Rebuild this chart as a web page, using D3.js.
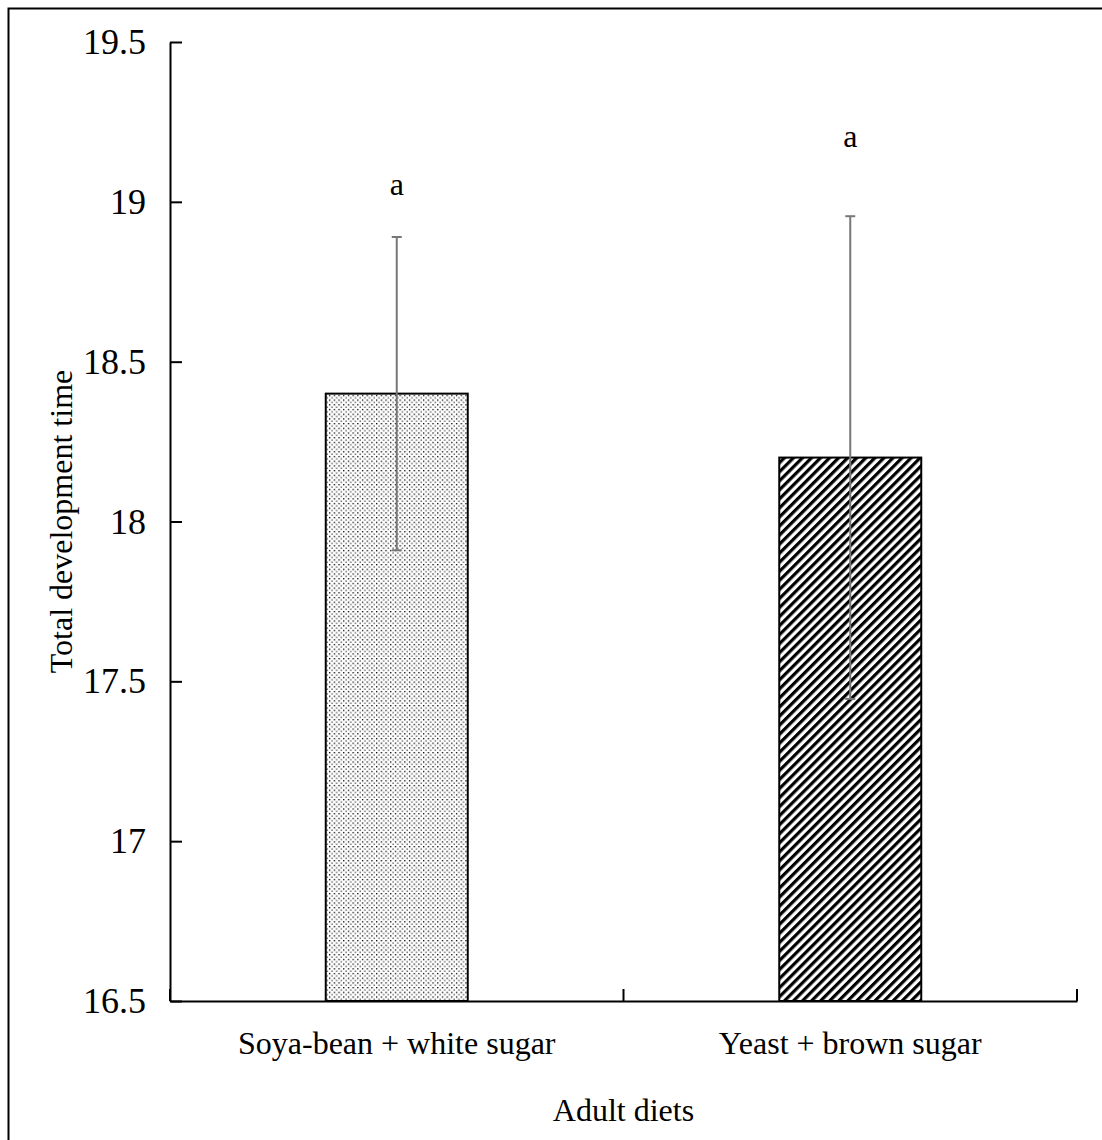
<!DOCTYPE html>
<html>
<head>
<meta charset="utf-8">
<script src="https://cdn.jsdelivr.net/npm/d3@7"></script>
<style>
  html, body { margin: 0; padding: 0; background: #fff; }
  svg text { font-family: "Liberation Serif", "Times New Roman", serif; fill: #000; }
</style>
</head>
<body>
<script>
((() => {

// Data
let diets = ['Soya-bean + white sugar', 'Yeast + brown sugar'];
let meanTime = [18.4, 18.2];
let errorTime = [0.49, 0.755];
let letters = ['a', 'a'];
let letterPos = [19.02, 19.17]; // where the letters sit, in axis units
let yTicks = [16.5, 17, 17.5, 18, 18.5, 19, 19.5];

let width = 1102,
    height = 1140;

let margin = { top: 42, bottom: 139, left: 170, right: 25 };

let svg = d3.select('body')
  .append('svg')
    .attr('width', width)
    .attr('height', height);

// outer frame (runs off the right and bottom edge)
svg.append('rect')
  .attr('x', 8.5).attr('y', 8.5)
  .attr('width', width + 20).attr('height', height + 20)
  .attr('fill', 'none')
  .attr('stroke', '#000')
  .attr('stroke-width', 2);

// fill patterns
let defs = svg.append('defs');

let dots = defs.append('pattern')
  .attr('id', 'dots')
  .attr('patternUnits', 'userSpaceOnUse')
  .attr('width', 4.7).attr('height', 4.7);
dots.append('rect').attr('width', 4.7).attr('height', 4.7).attr('fill', '#fff');
dots.append('rect').attr('x', 0).attr('y', 0).attr('width', 1.3).attr('height', 1.3).attr('fill', '#000');
dots.append('rect').attr('x', 2.35).attr('y', 2.35).attr('width', 1.3).attr('height', 1.3).attr('fill', '#444');

let hatch = defs.append('pattern')
  .attr('id', 'hatch')
  .attr('patternUnits', 'userSpaceOnUse')
  .attr('width', 6.4).attr('height', 10)
  .attr('patternTransform', 'rotate(45)');
hatch.append('rect').attr('width', 6.4).attr('height', 10).attr('fill', '#fff');
hatch.append('rect').attr('x', 0).attr('y', 0).attr('width', 3.2).attr('height', 10).attr('fill', '#000');

let fills = ['url(#dots)', 'url(#hatch)'];

// scales
let yScale = d3.scaleLinear()
  .domain([16.5, 19.5])
  .range([height - margin.bottom, margin.top]);

let xScale = d3.scaleBand()
  .domain(diets)
  .range([margin.left, width - margin.right])
  .paddingInner(0)
  .paddingOuter(0);

let barWidth = 142;

// bars
svg.selectAll('rect.bar')
  .data(diets)
  .enter()
  .append('rect')
    .attr('class', 'bar')
    .attr('x', (d) => xScale(d) + xScale.bandwidth() / 2 - barWidth / 2)
    .attr('y', (d, i) => yScale(meanTime[i]))
    .attr('width', barWidth)
    .attr('height', (d, i) => yScale(16.5) - yScale(meanTime[i]))
    .attr('fill', (d, i) => fills[i])
    .attr('stroke', '#000')
    .attr('stroke-width', 2);

// error bars
let err = svg.selectAll('g.err')
  .data(diets)
  .enter()
  .append('g')
    .attr('class', 'err')
    .attr('transform', (d) => `translate(${xScale(d) + xScale.bandwidth() / 2},0)`);

err.append('line')
  .attr('y1', (d, i) => yScale(meanTime[i] + errorTime[i]))
  .attr('y2', (d, i) => yScale(meanTime[i] - errorTime[i]))
  .attr('stroke', '#777').attr('stroke-width', 2);

[1, -1].forEach((s) => {
  err.append('line')
    .attr('x1', -5).attr('x2', 5)
    .attr('y1', (d, i) => yScale(meanTime[i] + s * errorTime[i]))
    .attr('y2', (d, i) => yScale(meanTime[i] + s * errorTime[i]))
    .attr('stroke', '#777').attr('stroke-width', 2);
});

// significance letters
svg.selectAll('text.letter')
  .data(diets)
  .enter()
  .append('text')
    .attr('class', 'letter')
    .attr('x', (d) => xScale(d) + xScale.bandwidth() / 2)
    .attr('y', (d, i) => yScale(letterPos[i]))
    .attr('text-anchor', 'middle')
    .style('font-size', '32px')
    .text((d, i) => letters[i]);

// axes
let yAxis = svg.append('g')
  .attr('transform', `translate(${margin.left},0)`)
  .call(d3.axisLeft(yScale)
    .tickValues(yTicks)
    .tickFormat(d3.format('~g'))
    .tickSizeInner(-12)
    .tickSizeOuter(0)
    .tickPadding(24));

let xAxis = svg.append('g')
  .attr('transform', `translate(0,${height - margin.bottom})`)
  .call(d3.axisBottom(xScale)
    .tickSize(0)
    .tickPadding(30));

// x ticks sit on the category boundaries
xAxis.selectAll('line.bound')
  .data([margin.left, xScale(diets[1]), width - margin.right])
  .enter()
  .append('line')
    .attr('class', 'bound')
    .attr('x1', (d) => d).attr('x2', (d) => d)
    .attr('y1', 0).attr('y2', -12)
    .attr('stroke', '#000').attr('stroke-width', 2);

[yAxis, xAxis].forEach((ax) => {
  ax.select('.domain').attr('stroke', '#000').attr('stroke-width', 2);
  ax.selectAll('.tick line').attr('stroke', '#000').attr('stroke-width', 2);
  ax.selectAll('text')
    .style('font-family', '"Liberation Serif", "Times New Roman", serif')
    .attr('fill', '#000');
});
yAxis.selectAll('text').style('font-size', '36px');
xAxis.selectAll('text').style('font-size', '32px');

// axis titles
svg.append('text')
  .attr('transform', `translate(72,${(yScale(16.5) + yScale(19.5)) / 2}) rotate(-90)`)
  .attr('text-anchor', 'middle')
  .style('font-size', '32px')
  .text('Total development time');

svg.append('text')
  .attr('x', (margin.left + width - margin.right) / 2)
  .attr('y', 1121)
  .attr('text-anchor', 'middle')
  .style('font-size', '32px')
  .text('Adult diets');

})());
</script>
</body>
</html>
